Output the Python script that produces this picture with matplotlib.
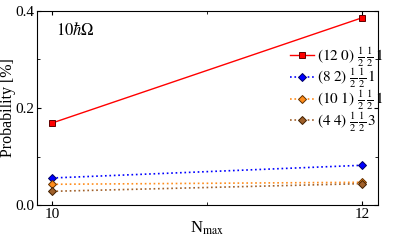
import numpy as np
import matplotlib
matplotlib.use("Agg")
import matplotlib.pyplot as plt
from matplotlib.ticker import MultipleLocator

plt.rcParams['font.family'] = ['Liberation Serif', 'DejaVu Serif']
plt.rcParams['mathtext.fontset'] = 'stix'

nmax = [10, 12]
p_120 = [0.169, 0.386]
p_82 = [0.0557, 0.0819]
p_101 = [0.0427, 0.0468]
p_44 = [0.0282, 0.0440]

labels = [r"$(12\ 0)\ \frac{1}{2}\,\frac{1}{2}\,1$",
          r"$(8\ 2)\ \frac{1}{2}\,\frac{1}{2}\,1$",
          r"$(10\ 1)\ \frac{1}{2}\,\frac{1}{2}\,1$",
          r"$(4\ 4)\ \frac{1}{2}\,\frac{1}{2}\,3$"]

fig = plt.figure(figsize=(4.03, 2.40), dpi=100)
ax = fig.add_axes([37/403, 35/240, 341/403, 194/240])

ax.plot(nmax, p_120, '-', color='#ff0000', lw=1.0, marker='s', ms=4.5,
        mfc='#ff0000', mec='#600000', mew=0.7, label=labels[0])
ax.plot(nmax, p_82, ':', color='#0000ff', lw=1.2, marker='D', ms=3.8,
        mfc='#0000ff', mec='#000060', mew=0.7, label=labels[1])
ax.plot(nmax, p_101, ':', color='#ff8c1a', lw=1.2, marker='D', ms=3.8,
        mfc='#ff8c1a', mec='#603000', mew=0.7, label=labels[2])
ax.plot(nmax, p_44, ':', color='#a0602a', lw=1.2, marker='D', ms=3.8,
        mfc='#a0602a', mec='#402000', mew=0.7, label=labels[3])

ax.set_xlim(9.903, 12.103)
ax.set_ylim(0, 0.4)
ax.set_xticks([10, 12])
ax.xaxis.set_minor_locator(MultipleLocator(1))
ax.set_yticks([0.0, 0.2, 0.4])
ax.yaxis.set_minor_locator(MultipleLocator(0.1))
ax.tick_params(which='both', direction='in', top=True, right=True, labelsize=11)
ax.tick_params(which='major', length=3, pad=2)
ax.tick_params(which='minor', length=2)
for s in ax.spines.values():
    s.set_linewidth(0.8)

ax.set_xlabel(r"N$_{\rm max}$", fontsize=12)
ax.xaxis.set_label_coords(0.5, -0.075)
ax.xaxis.label.set_va('top')
ax.set_ylabel("Probability [%]", fontsize=11.5)
ax.yaxis.set_label_coords(-0.062, 0.5)
ax.text(0.055, 0.90, r"$10\hbar\Omega$", transform=ax.transAxes, fontsize=12,
        va='center')

ax.legend(loc='upper right', bbox_to_anchor=(1.035, 0.855), frameon=False,
          fontsize=11, handlelength=1.6, handletextpad=0.2, labelspacing=-0.12,
          borderaxespad=0.0)

fig.savefig("out.png", dpi=100)
